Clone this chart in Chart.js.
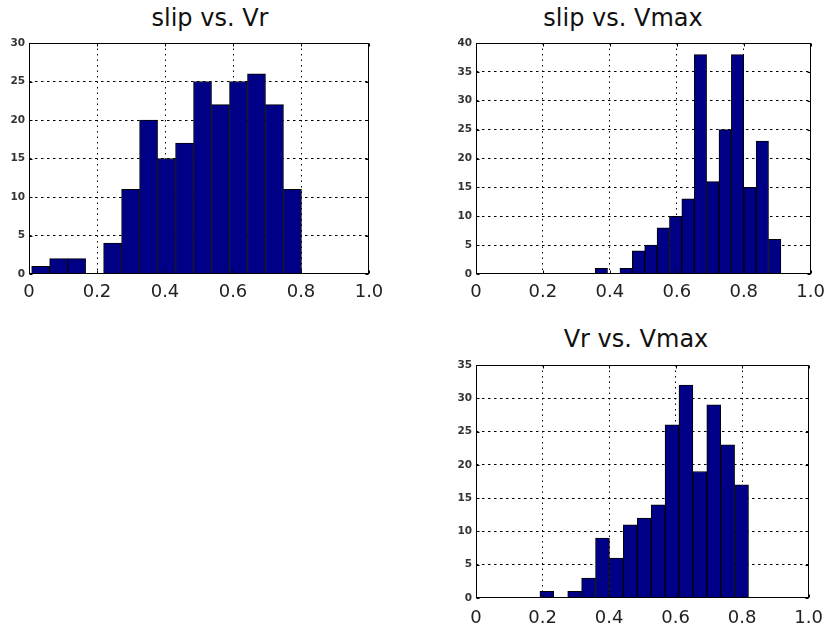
<!DOCTYPE html>
<html>
<head>
<meta charset="utf-8">
<script src="https://cdn.jsdelivr.net/npm/chart.js@4/dist/chart.umd.min.js"></script>
<style>
  html, body { margin: 0; padding: 0; background: #fff; width: 833px; height: 626px; overflow: hidden; }
  .panel { position: absolute; }
  .title {
    position: absolute; width: 240px; text-align: center;
    font-family: "DejaVu Sans", sans-serif; font-size: 24px; line-height: 28px;
    color: #111; white-space: nowrap;
  }
</style>
</head>
<body>
<div class="title" style="left:90px; top:4px;">slip vs. Vr</div>
<div class="title" style="left:503px; top:4px;">slip vs. Vmax</div>
<div class="title" style="left:516px; top:325px;">Vr vs. Vmax</div>

<canvas id="slipVr" class="panel" width="400" height="305" style="left:0; top:0;"></canvas>
<canvas id="slipVmax" class="panel" width="393" height="305" style="left:440px; top:0;"></canvas>
<canvas id="vrVmax" class="panel" width="393" height="306" style="left:440px; top:320px;"></canvas>

<script>
// Shared x tick labels (correlation coefficient axis)
const xTickLabels = ['0', '0.2', '0.4', '0.6', '0.8', '1.0'];

// slip vs. Vr : bin centres and counts
const slipVrBins = [0.0343, 0.0872, 0.1401, 0.1930, 0.2459, 0.2988, 0.3517, 0.4046,
                    0.4575, 0.5104, 0.5633, 0.6162, 0.6691, 0.7220, 0.7749];
const slipVrCounts = [1, 2, 2, 0, 4, 11, 20, 15, 17, 25, 22, 25, 26, 22, 11];

// slip vs. Vmax : bin centres and counts
const slipVmaxBins = [0.3745, 0.4115, 0.4485, 0.4855, 0.5225, 0.5595, 0.5965, 0.6335,
                      0.6705, 0.7075, 0.7445, 0.7815, 0.8185, 0.8555, 0.8925];
const slipVmaxCounts = [1, 0, 1, 4, 5, 8, 10, 13, 38, 16, 25, 38, 15, 23, 6];

// Vr vs. Vmax : bin centres and counts
const vrVmaxBins = [0.2130, 0.2548, 0.2966, 0.3384, 0.3802, 0.4220, 0.4638, 0.5056,
                    0.5474, 0.5892, 0.6310, 0.6728, 0.7146, 0.7564, 0.7982];
const vrVmaxCounts = [1, 0, 1, 3, 9, 6, 11, 12, 14, 26, 32, 19, 29, 23, 17];

const BAR_FILL = '#000086';
const FONT = 'DejaVu Sans';

// Dotted grid only inside the box; the box edges are drawn solid by the frame plugin
function innerGrid(ctx) {
  const s = ctx.scale;
  if (!ctx.tick) return '#000';
  const v = ctx.tick.value;
  return (Math.abs(v - s.min) < 1e-9 || Math.abs(v - s.max) < 1e-9) ? 'rgba(0,0,0,0)' : '#000';
}

// Solid axes box with short inward tick marks on all four sides
const framePlugin = {
  id: 'frame',
  afterDatasetsDraw(chart) {
    const { ctx, chartArea: a, scales: { x, y } } = chart;
    const L = Math.round(a.left) + 0.5, R = Math.round(a.right) - 0.5;
    const T = Math.round(a.top) + 0.5, B = Math.round(a.bottom) - 0.5;
    const len = 3;
    ctx.save();
    ctx.strokeStyle = '#000';
    ctx.lineWidth = 1;
    ctx.beginPath();
    x.ticks.forEach(t => {
      const px = Math.round(x.getPixelForValue(t.value)) + 0.5;
      ctx.moveTo(px, T); ctx.lineTo(px, T + len);
      ctx.moveTo(px, B); ctx.lineTo(px, B - len);
    });
    y.ticks.forEach(t => {
      const py = Math.round(y.getPixelForValue(t.value)) + 0.5;
      ctx.moveTo(L, py); ctx.lineTo(L + len, py);
      ctx.moveTo(R, py); ctx.lineTo(R - len, py);
    });
    ctx.stroke();
    ctx.strokeRect(L, T, R - L, B - T);
    ctx.restore();
  }
};

function histogram(id, bins, counts, yMax, box) {
  return new Chart(document.getElementById(id), {
    type: 'bar',
    data: {
      datasets: [{
        data: bins.map((b, i) => ({ x: b, y: counts[i] })),
        backgroundColor: BAR_FILL,
        borderColor: '#000',
        borderWidth: 1,
        borderSkipped: 'start',
        barPercentage: 1,
        categoryPercentage: 1
      }]
    },
    options: {
      responsive: false,
      animation: false,
      devicePixelRatio: 1,
      layout: { padding: { top: box.padTop, right: box.padRight, left: 0, bottom: 0 } },
      plugins: { legend: { display: false }, tooltip: { enabled: false }, title: { display: false } },
      scales: {
        x: {
          type: 'linear', min: 0, max: 1, offset: false,
          ticks: {
            stepSize: 0.2, autoSkip: false, maxRotation: 0, padding: box.xPad,
            color: '#222', font: { family: FONT, size: 18 },
            callback: (v, i) => xTickLabels[i]
          },
          grid: { color: innerGrid, lineWidth: 1, drawTicks: false, offset: false },
          border: { display: false, dash: [1.5, 4] },
          afterFit: s => { s.height = box.xAxisHeight; }
        },
        y: {
          min: 0, max: yMax,
          ticks: {
            stepSize: 5, padding: 4, color: '#333',
            font: { family: FONT, size: 10.5, weight: 'bold' }
          },
          grid: { color: innerGrid, lineWidth: 1, drawTicks: false },
          border: { display: false, dash: [2.5, 3.5] },
          afterFit: s => { s.width = box.yAxisWidth; }
        }
      }
    },
    plugins: [framePlugin]
  });
}

histogram('slipVr', slipVrBins, slipVrCounts, 30,
  { yAxisWidth: 29, xAxisHeight: 31, padTop: 43, padRight: 31, xPad: 8 });
histogram('slipVmax', slipVmaxBins, slipVmaxCounts, 40,
  { yAxisWidth: 36, xAxisHeight: 31, padTop: 43, padRight: 17, xPad: 8 });
histogram('vrVmax', vrVmaxBins, vrVmaxCounts, 35,
  { yAxisWidth: 36, xAxisHeight: 28, padTop: 45, padRight: 15, xPad: 10 });
</script>
</body>
</html>
